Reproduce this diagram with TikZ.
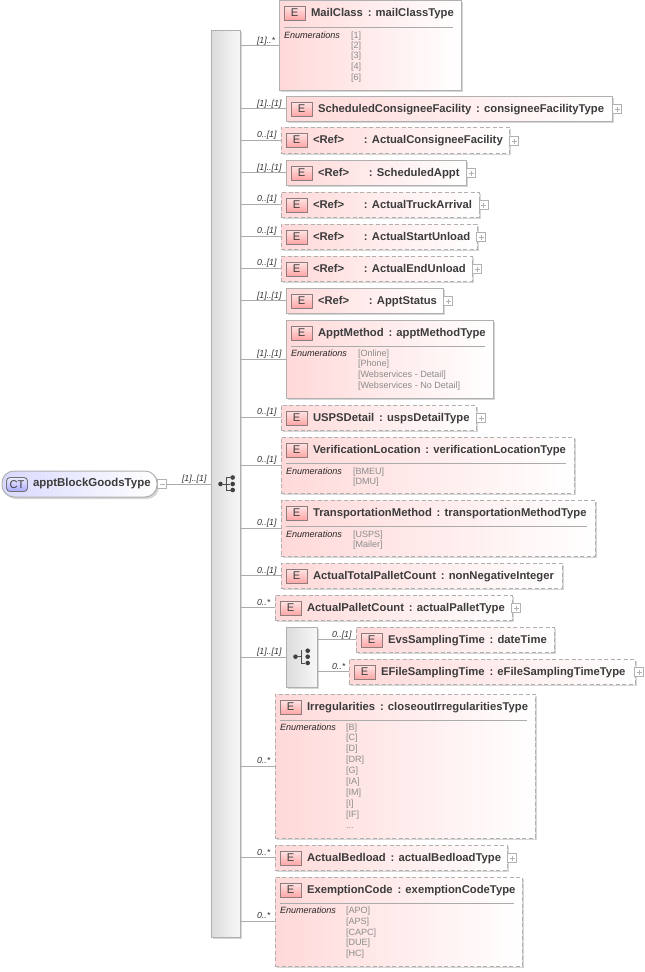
\documentclass[tikz,border=0pt]{standalone}
\usepackage{fontspec}
\setmainfont{Liberation Sans}
\usetikzlibrary{shadows}
\newdimen\px \px=0.75pt
\definecolor{edgegray}{HTML}{B0B0B0}
\definecolor{linegray}{HTML}{ABABAB}
\definecolor{titlecol}{HTML}{3C3C3C}
\definecolor{pinkfill}{HTML}{FFD9D9}
\definecolor{lavfill}{HTML}{D9D9FF}
\definecolor{iconred}{HTML}{FFA6A6}
\definecolor{iconedge}{HTML}{8F7C7C}
\definecolor{valgray}{HTML}{8C8C8C}
\tikzset{
  softshadow/.style={drop shadow={shadow xshift=2\px,shadow yshift=-2\px,fill=black,opacity=0.16}},
  elembox/.style={draw=edgegray,line width=1\px,left color=pinkfill,right color=white,inner sep=0pt,outer sep=0pt,softshadow},
  optbox/.style={elembox,dash pattern=on 4\px off 2.5\px},
  ebadge/.style={draw=iconedge,line width=0.9\px,top color=pinkfill!70,bottom color=iconred,minimum width=21\px,minimum height=14\px,inner sep=0pt,outer sep=0pt,text=titlecol,font=\fontsize{8.4pt}{8.4pt}\selectfont},
  titletext/.style={anchor=base west,inner sep=0pt,outer sep=0pt,text=titlecol,font=\fontsize{8.45pt}{9pt}\selectfont\bfseries},
  multtext/.style={anchor=base west,inner sep=0pt,outer sep=0pt,text=black!80,font=\fontsize{6.6pt}{7pt}\selectfont\itshape},
  enumhead/.style={anchor=base west,inner sep=0pt,outer sep=0pt,text=black!85,font=\fontsize{6.8pt}{7pt}\selectfont\itshape},
  enumval/.style={anchor=base west,inner sep=0pt,outer sep=0pt,text=valgray,font=\fontsize{6.8pt}{7pt}\selectfont},
  conn/.style={draw=linegray,line width=1\px},
  rulebar/.style={draw=linegray,line width=0.8\px},
  expander/.style={draw=black!30,fill=white,line width=0.8\px,minimum width=9\px,minimum height=9\px,inner sep=0pt,outer sep=0pt},
  seqbox/.style={draw=edgegray,line width=1\px,left color=black!14,right color=black!3,inner sep=0pt,outer sep=0pt,softshadow},
  ctbox/.style={draw=edgegray,line width=1\px,left color=lavfill,right color=white,rounded corners=12\px,inner sep=0pt,outer sep=0pt,softshadow},
  ctbadge/.style={draw=black!55,line width=0.9\px,top color=lavfill!50,bottom color=blue!22!lavfill,rounded corners=3.5\px,minimum width=21\px,minimum height=14\px,inner sep=0pt,outer sep=0pt,text=titlecol,font=\fontsize{8.4pt}{8.4pt}\selectfont},
  treeline/.style={draw=black!70,line width=0.8\px},
  treedot/.style={circle,fill=black!75,minimum size=4.6\px,inner sep=0pt,outer sep=0pt},
}
% name, x1, y1, x2, y2, style, title
\newcommand{\elem}[7]{%
  \pgfmathsetmacro{\cxx}{(#2+#4)/2}\pgfmathsetmacro{\cyy}{(#3+#5)/2}%
  \pgfmathsetlengthmacro{\ww}{(#4-#2)*0.75pt}\pgfmathsetlengthmacro{\hh}{(#5-#3)*0.75pt}%
  \node[#6,minimum width=\ww,minimum height=\hh] (#1) at (\cxx,\cyy) {};%
  \node[ebadge] (#1-e) at (#2+15.5,#3+13) {E};%
  \node[titletext] (#1-t) at (#2+32,#3+16) {#7};%
}
\newcommand{\expand}[3]{%
  \node[expander] (#1) at (#2,#3) {};%
  \draw[draw=black!30,line width=0.7\px] ([xshift=-2.5\px]#1.center) -- ([xshift=2.5\px]#1.center) ([yshift=-2.5\px]#1.center) -- ([yshift=2.5\px]#1.center);%
}
\newcommand{\mult}[4]{\node[multtext] (#1) at (#2,#3) {#4};}
\newcommand{\reft}[1]{\makebox[38.25pt][l]{<Ref>}: #1}
\newcommand{\cln}[2]{#1\hspace{3.6pt}: #2}
\begin{document}
\begin{tikzpicture}[x=0.75pt,y=-0.75pt]
\useasboundingbox (0,0) rectangle (644,972);

% main sequence and root
\node[seqbox,minimum width=21.75pt,minimum height=680.25pt] (seq) at (225.5,483.5) {};
\node[ctbox,minimum width=116.25pt,minimum height=19.5pt] (root) at (79.5,484) {};
\node[ctbadge] (root-e) at (17,484.5) {CT};
\node[titletext] (root-t) at (33,486) {\fontsize{8.6pt}{9pt}\selectfont apptBlockGoodsType};
\node[expander] (rootx) at (162,484) {};
\draw[draw=black!30,line width=0.7\px] ([xshift=-2.5\px]rootx.center) -- ([xshift=2.5\px]rootx.center);
\draw[conn] (rootx.east) -- (seq.west |- rootx.east);
\mult{root-m}{182}{481}{[1]..[1]}

% tree icon, main sequence
\node[treedot] (d0) at (220.5,484) {};
\node[treedot] (d1) at (232.7,477.5) {};
\node[treedot] (d2) at (232.7,484) {};
\node[treedot] (d3) at (232.7,490) {};
\draw[treeline] (d0) -- (d2) (d1.center) -| (226.7,490) -- (d3.center);

% elements
\elem{mail}{279}{0}{461}{90}{elembox}{\cln{MailClass}{mailClassType}}
\elem{schedfac}{286}{96}{612}{121}{elembox}{\cln{ScheduledConsigneeFacility}{consigneeFacilityType}}
\elem{actfac}{281}{127}{509}{153}{optbox}{\reft{ActualConsigneeFacility}}
\elem{schedappt}{286}{160}{466}{185}{elembox}{\reft{ScheduledAppt}}
\elem{truck}{281}{192}{479}{217}{optbox}{\reft{ActualTruckArrival}}
\elem{startun}{281}{224}{477}{249}{optbox}{\reft{ActualStartUnload}}
\elem{endun}{281}{256}{472}{281}{optbox}{\reft{ActualEndUnload}}
\elem{status}{286}{288}{443}{313}{elembox}{\reft{ApptStatus}}
\elem{method}{286}{320}{493}{398}{elembox}{\cln{ApptMethod}{apptMethodType}}
\elem{usps}{281}{405}{476}{430}{optbox}{\cln{USPSDetail}{uspsDetailType}}
\elem{verif}{281}{437}{574}{493}{optbox}{\cln{VerificationLocation}{verificationLocationType}}
\elem{transp}{281}{500}{595}{556}{optbox}{\cln{TransportationMethod}{transportationMethodType}}
\elem{total}{281}{563}{562}{588}{optbox}{\cln{ActualTotalPalletCount}{nonNegativeInteger}}
\elem{pallet}{275}{595}{512}{620}{optbox}{\cln{ActualPalletCount}{actualPalletType}}
\node[seqbox,minimum width=23.25pt,minimum height=45pt] (seqb) at (301.5,657) {};
\elem{evs}{356}{627}{554}{652}{optbox}{\cln{EvsSamplingTime}{dateTime}}
\elem{efile}{349}{659}{635}{684}{optbox}{\cln{EFileSamplingTime}{eFileSamplingTimeType}}
\elem{irreg}{275}{694}{535}{838}{optbox}{\cln{Irregularities}{closeoutIrregularitiesType}}
\elem{bedload}{275}{845}{507}{870}{optbox}{\cln{ActualBedload}{actualBedloadType}}
\elem{exempt}{275}{877}{522}{966}{optbox}{\cln{ExemptionCode}{exemptionCodeType}}

% connectors
\foreach \n in {mail,schedfac,actfac,schedappt,truck,startun,endun,status,method,usps,verif,transp,total,pallet,irreg,bedload,exempt}
  \draw[conn] (seq.east |- \n.west) -- (\n.west);
\draw[conn] (seq.east |- seqb.west) -- (seqb.west);
\draw[conn] (seqb.east |- evs.west) -- (evs.west);
\draw[conn] (seqb.east |- efile.west) -- (efile.west);

% multiplicities
\mult{m1}{257}{43}{[1]..*}
\mult{m2}{257}{106}{[1]..[1]}
\mult{m3}{257}{137}{0..[1]}
\mult{m4}{257}{170}{[1]..[1]}
\mult{m5}{257}{201}{0..[1]}
\mult{m6}{257}{233}{0..[1]}
\mult{m7}{257}{265}{0..[1]}
\mult{m8}{257}{298}{[1]..[1]}
\mult{m9}{257}{356}{[1]..[1]}
\mult{m10}{257}{414}{0..[1]}
\mult{m11}{257}{462}{0..[1]}
\mult{m12}{257}{525}{0..[1]}
\mult{m13}{257}{573}{0..[1]}
\mult{m14}{257}{605}{0..*}
\mult{m15}{257}{654}{[1]..[1]}
\mult{m16}{332}{637}{0..[1]}
\mult{m17}{332}{669}{0..*}
\mult{m18}{257}{763}{0..*}
\mult{m19}{257}{855}{0..*}
\mult{m20}{257}{918}{0..*}

% expanders
\expand{x1}{617}{109}
\expand{x2}{514}{141}
\expand{x3}{471}{173}
\expand{x4}{483.5}{205}
\expand{x5}{481}{237}
\expand{x6}{477}{269}
\expand{x7}{448}{301}
\expand{x8}{481}{418}
\expand{x9}{516}{608}
\expand{x10}{639}{672}
\expand{x11}{512}{858}

% tree icon, inner sequence
\node[treedot] (t0) at (295.5,656.7) {};
\node[treedot] (t1) at (307.7,650.7) {};
\node[treedot] (t2) at (307.7,656.7) {};
\node[treedot] (t3) at (307.7,663) {};
\coordinate (tv) at (301,650);
\draw[treeline] (t0) -- (t0 -| tv);
\draw[treeline] (tv) -- (tv |- t3) -- (t3);

% rules in the boxes with enumerations
\coordinate (r1) at (284,27);
\coordinate (r2) at (291,346);
\coordinate (r3) at (286,463);
\coordinate (r4) at (286,526);
\coordinate (r5) at (280,720);
\coordinate (r6) at (280,903);
\draw[rulebar] (r1) -- ++(169,0);
\draw[rulebar] (r2) -- ++(194,0);
\draw[rulebar] (r3) -- ++(280,0);
\draw[rulebar] (r4) -- ++(301,0);
\draw[rulebar] (r5) -- ++(247,0);
\draw[rulebar] (r6) -- ++(234,0);

% enumerations
\node[enumhead] (eh1) at (284,38) {Enumerations};
\foreach \v/\y/\i in {{[1]}/38/1,{[2]}/48/2,{[3]}/58/3,{[4]}/69/4,{[6]}/80/5}
  \node[enumval] (ev1\i) at (351,\y) {\v};
\node[enumhead] (eh2) at (291,356) {Enumerations};
\foreach \v/\y/\i in {{[Online]}/356/1,{[Phone]}/366/2,{[Webservices - Detail]}/377/3,{[Webservices - No Detail]}/388/4}
  \node[enumval] (ev2\i) at (358,\y) {\v};
\node[enumhead] (eh3) at (286,474) {Enumerations};
\foreach \v/\y/\i in {{[BMEU]}/474/1,{[DMU]}/484/2}
  \node[enumval] (ev3\i) at (353,\y) {\v};
\node[enumhead] (eh4) at (286,537) {Enumerations};
\foreach \v/\y/\i in {{[USPS]}/537/1,{[Mailer]}/547/2}
  \node[enumval] (ev4\i) at (353,\y) {\v};
\node[enumhead] (eh5) at (280,730) {Enumerations};
\foreach \v/\y/\i in {{[B]}/730/1,{[C]}/740/2,{[D]}/751/3,{[DR]}/762/4,{[G]}/773/5,{[IA]}/784/6,{[IM]}/795/7,{[I]}/806/8,{[IF]}/817/9,{...}/828/10}
  \node[enumval] (ev5\i) at (346,\y) {\v};
\node[enumhead] (eh6) at (280,913) {Enumerations};
\foreach \v/\y/\i in {{[APO]}/913/1,{[APS]}/924/2,{[CAPC]}/935/3,{[DUE]}/945/4,{[HC]}/956/5}
  \node[enumval] (ev6\i) at (346,\y) {\v};
\end{tikzpicture}
\end{document}
